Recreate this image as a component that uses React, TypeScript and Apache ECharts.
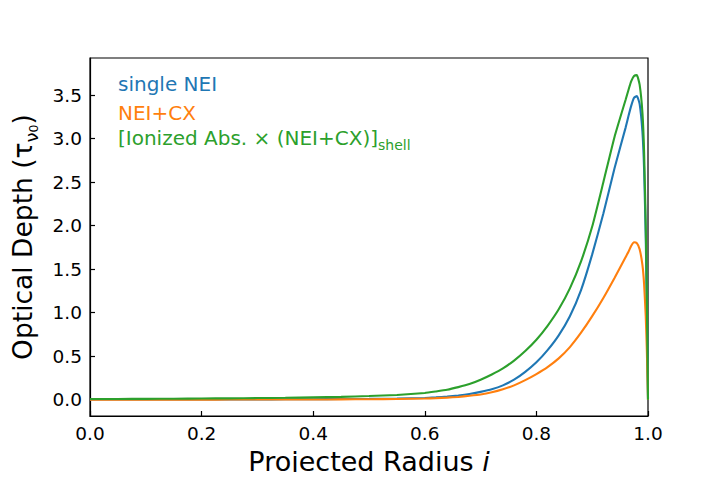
import React, { useEffect, useRef } from "react";
import * as echarts from "echarts";

const xValues = [
  0, 0.05, 0.1, 0.15, 0.2, 0.25, 0.3, 0.35, 0.4, 0.45, 0.5, 0.55,
  0.6, 0.62, 0.64, 0.66, 0.68, 0.7, 0.72, 0.74, 0.76, 0.78, 0.8, 0.82, 0.84, 0.86, 0.88, 0.9, 0.92, 0.94, 0.96,
  0.965, 0.97, 0.975, 0.98, 0.985, 0.99, 0.993, 0.996, 0.998, 1.0,
];

const singleNEI = [
  0.002, 0.002, 0.002, 0.003, 0.003, 0.004, 0.004, 0.005, 0.006, 0.008, 0.01, 0.014,
  0.02, 0.027, 0.036, 0.048, 0.065, 0.09, 0.12, 0.165, 0.23, 0.32, 0.43, 0.57, 0.74, 0.96, 1.26, 1.67, 2.14, 2.66, 3.13,
  3.26, 3.38, 3.47, 3.49, 3.4, 3.08, 2.65, 1.85, 1.0, 0.0,
];

const neiCX = [
  0.0, 0.0, 0.001, 0.001, 0.001, 0.002, 0.002, 0.003, 0.003, 0.004, 0.006, 0.009,
  0.014, 0.018, 0.024, 0.032, 0.045, 0.06, 0.085, 0.12, 0.165, 0.225, 0.295, 0.375, 0.475, 0.605, 0.77, 0.96, 1.17, 1.4, 1.64,
  1.7, 1.77, 1.81, 1.8, 1.73, 1.55, 1.33, 0.95, 0.55, 0.0,
];

const shellAbs = [
  0.008, 0.009, 0.01, 0.012, 0.014, 0.016, 0.019, 0.022, 0.027, 0.033, 0.042, 0.055,
  0.077, 0.095, 0.115, 0.145, 0.18, 0.23, 0.29, 0.36, 0.45, 0.56, 0.69, 0.85, 1.04, 1.28, 1.59, 1.99, 2.5, 3.02, 3.45,
  3.56, 3.66, 3.72, 3.73, 3.62, 3.3, 2.85, 2.0, 1.1, 0.0,
];

const yTicks = [0, 0.5, 1.0, 1.5, 2.0, 2.5, 3.0, 3.5];

const seriesNames = ["single NEI", "NEI+CX", "[Ionized Abs. × (NEI+CX)]shell"];
const colors = ["#1f77b4", "#ff7f0e", "#2ca02c"];

const FONT = "DejaVu Sans";

export default function App() {
  const ref = useRef<HTMLDivElement>(null);
  useEffect(() => {
    if (!ref.current) return;
    const chart = echarts.init(ref.current, null, { renderer: "svg" });
    const mk = (ys: number[]) => xValues.map((x, i) => [x, ys[i]]);
    const allSeries = [singleNEI, neiCX, shellAbs];
    chart.setOption({
      animation: false,
      textStyle: { fontFamily: FONT },
      grid: {
        left: 90,
        right: 72,
        top: 58,
        bottom: 58,
        show: true,
        borderColor: "#000",
        borderWidth: 1.2,
        backgroundColor: "transparent",
      },
      xAxis: {
        type: "value",
        min: 0,
        max: 1,
        interval: 0.2,
        splitLine: { show: false },
        axisLine: { show: true, onZero: false, lineStyle: { color: "#000", width: 1.2 } },
        axisTick: { show: true, inside: true, length: 5, lineStyle: { color: "#000", width: 1.2 } },
        axisLabel: {
          color: "#000",
          fontSize: 18.5,
          fontFamily: FONT,
          margin: 8,
          formatter: (v: number) => v.toFixed(1),
        },
        name: "{a|Projected Radius }{i|i}",
        nameLocation: "middle",
        nameGap: 32,
        nameTextStyle: {
          rich: {
            a: { fontSize: 27, fontFamily: FONT, color: "#000" },
            i: { fontSize: 27, fontFamily: FONT, color: "#000", fontStyle: "italic" },
          },
        },
      },
      yAxis: {
        type: "value",
        min: -0.187,
        max: 3.927,
        splitLine: { show: false },
        axisLine: { show: true, lineStyle: { color: "#000", width: 1.2 } },
        axisTick: {
          show: true,
          inside: true,
          length: 5,
          customValues: yTicks,
          lineStyle: { color: "#000", width: 1.2 },
        },
        axisLabel: {
          color: "#000",
          fontSize: 18.5,
          fontFamily: FONT,
          margin: 8,
          customValues: yTicks,
          formatter: (v: number) => v.toFixed(1),
        },
        name: "{a|Optical Depth (τ}{s|ν}{ss|0}{a|)}",
        nameLocation: "middle",
        nameGap: 50,
        nameRotate: 90,
        nameTextStyle: {
          rich: {
            a: { fontSize: 26.5, fontFamily: FONT, color: "#000", lineHeight: 36 },
            s: { fontSize: 18, fontFamily: FONT, color: "#000", verticalAlign: "bottom", lineHeight: 23 },
            ss: { fontSize: 12.5, fontFamily: FONT, color: "#000", verticalAlign: "bottom", lineHeight: 13 },
          },
        },
      },
      graphic: [
        {
          type: "text",
          left: 118,
          top: 74,
          style: { text: seriesNames[0], fill: colors[0], fontSize: 20, fontFamily: FONT },
        },
        {
          type: "text",
          left: 118,
          top: 102.5,
          style: { text: seriesNames[1], fill: colors[1], fontSize: 20, fontFamily: FONT },
        },
        {
          type: "text",
          left: 118,
          top: 128,
          style: {
            text: "{a|[Ionized Abs. × (NEI+CX)]}{s|shell}",
            rich: {
              a: { fill: colors[2], fontSize: 20, fontFamily: FONT, lineHeight: 27 },
              s: { fill: colors[2], fontSize: 14, fontFamily: FONT, verticalAlign: "bottom", lineHeight: 17 },
            },
          },
        },
      ],
      series: allSeries.map((ys, i) => ({
        type: "line",
        name: seriesNames[i],
        data: mk(ys),
        showSymbol: false,
        smooth: 0.15,
        lineStyle: { color: colors[i], width: 2.1 },
        itemStyle: { color: colors[i] },
        z: 2 + i,
      })),
    });
    return () => chart.dispose();
  }, []);
  return <div ref={ref} style={{ width: 720, height: 480, margin: -8 }} />;
}
